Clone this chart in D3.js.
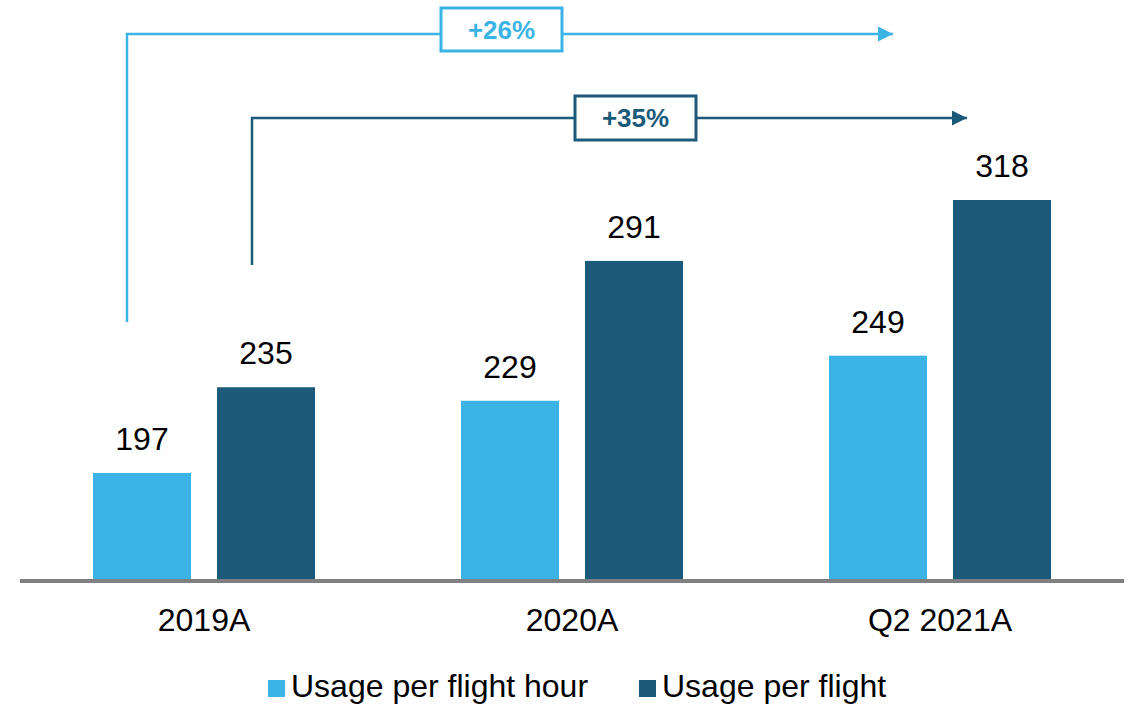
<!DOCTYPE html>
<html>
<head>
<meta charset="utf-8">
<script src="https://cdn.jsdelivr.net/npm/d3@7"></script>
<style>
  body { margin: 0; background: #fff; }
  text { font-family: "Liberation Sans", Arial, sans-serif; }
</style>
</head>
<body>
<div id="chart"></div>
<script>
const categories = ["2019A", "2020A", "Q2 2021A"];
const seriesNames = ["Usage per flight hour", "Usage per flight"];
const perFlightHour = [197, 229, 249];
const perFlight = [235, 291, 318];
const growthLabels = ["+26%", "+35%"];
const colors = ["#3BB4E5", "#1C5A7A"];

const width = 1130, height = 705;

const svg = d3.select("#chart")
    .append("svg")
        .attr("width", width)
        .attr("height", height);

//rows of {cat, series values}
const rows = categories.map((c, i) => ({
    cat: c,
    vals: [perFlightHour[i], perFlight[i]]
}));

const x = d3.scaleBand()
    .domain(categories)
    .range([20, 1124]);

const xSub = d3.scaleBand()
    .domain([0, 1])
    .range([73, 295])
    .paddingInner(0.21);

// axis doesn't start at zero in the original
const y = d3.scaleLinear()
    .domain([150, 318])
    .range([579, 200]);

const groups = svg.append("g")
    .selectAll("g")
    .data(rows)
    .enter().append("g")
        .attr("transform", d => `translate(${x(d.cat)}, 0)`);

groups.selectAll("rect")
    .data(d => d.vals.map((v, k) => ({k: k, v: v})))
    .enter().append("rect")
        .attr("x", d => xSub(d.k))
        .attr("y", d => y(d.v))
        .attr("width", xSub.bandwidth())
        .attr("height", d => y.range()[0] - y(d.v))
        .attr("fill", d => colors[d.k]);

groups.selectAll("text.val")
    .data(d => d.vals.map((v, k) => ({k: k, v: v})))
    .enter().append("text")
        .attr("class", "val")
        .attr("x", d => xSub(d.k) + xSub.bandwidth() / 2)
        .attr("y", d => y(d.v) - 23)
        .attr("text-anchor", "middle")
        .attr("font-size", 32)
        .attr("fill", "#000")
        .text(d => d.v);

//baseline
svg.append("line")
    .attr("x1", 20).attr("x2", 1124)
    .attr("y1", 581).attr("y2", 581)
    .attr("stroke", "#808080")
    .attr("stroke-width", 4);

//category labels
svg.append("g")
    .selectAll("text")
    .data(categories)
    .enter().append("text")
        .attr("x", d => x(d) + x.bandwidth() / 2)
        .attr("y", 631)
        .attr("text-anchor", "middle")
        .attr("font-size", 32)
        .attr("fill", "#000")
        .text(d => d);

//growth arrows
const defs = svg.append("defs");
colors.forEach((c, i) => {
    defs.append("marker")
        .attr("id", "arrow" + i)
        .attr("viewBox", "0 0 10 10")
        .attr("refX", 10).attr("refY", 5)
        .attr("markerUnits", "userSpaceOnUse")
        .attr("markerWidth", 16).attr("markerHeight", 15)
        .attr("orient", "auto")
        .append("path")
            .attr("d", "M0,0 L10,5 L0,10 Z")
            .attr("fill", c);
});

const arrows = [
    {x0: x(categories[0]) + xSub(0) + xSub.bandwidth() / 2 - 15, yBottom: 322, yLine: 34, x1: 893, boxX: 441, boxW: 121, boxY: 8, boxH: 43},
    {x0: x(categories[0]) + xSub(1) + xSub.bandwidth() / 2 - 14, yBottom: 265, yLine: 118, x1: 967, boxX: 575, boxW: 121, boxY: 96, boxH: 44}
];

arrows.forEach((a, i) => {
    svg.append("path")
        .attr("d", `M${a.x0},${a.yBottom} V${a.yLine} H${a.x1}`)
        .attr("fill", "none")
        .attr("stroke", colors[i])
        .attr("stroke-width", 2.5)
        .attr("marker-end", `url(#arrow${i})`);
    svg.append("rect")
        .attr("x", a.boxX).attr("y", a.boxY)
        .attr("width", a.boxW).attr("height", a.boxH)
        .attr("fill", "#fff")
        .attr("stroke", colors[i])
        .attr("stroke-width", 3);
    svg.append("text")
        .attr("x", a.boxX + a.boxW / 2)
        .attr("y", a.boxY + a.boxH / 2 + 9)
        .attr("text-anchor", "middle")
        .attr("font-size", 26)
        .attr("font-weight", "bold")
        .attr("fill", colors[i])
        .text(growthLabels[i]);
});

//legend
const legendX = [268, 639];
const legend = svg.append("g")
    .selectAll("g")
    .data(seriesNames)
    .enter().append("g")
        .attr("transform", (d, i) => `translate(${legendX[i]}, 680)`);
legend.append("rect")
    .attr("width", 17).attr("height", 17)
    .attr("fill", (d, i) => colors[i]);
legend.append("text")
    .attr("x", 23)
    .attr("y", 17)
    .attr("font-size", 32)
    .attr("fill", "#000")
    .text(d => d);
</script>
</body>
</html>
